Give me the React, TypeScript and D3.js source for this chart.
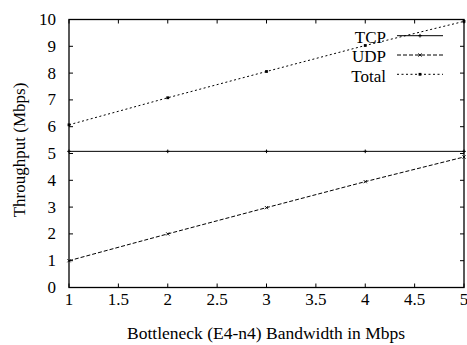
import React from "react";
import * as d3 from "d3";

const xs = [1, 2, 3, 4, 5];
const tcp = [5.08, 5.08, 5.08, 5.08, 5.08];
const udp = [1.0, 2.0, 2.98, 3.95, 4.87];
const total = [6.07, 7.08, 8.06, 9.03, 9.93];
const xTicks = [1, 1.5, 2, 2.5, 3, 3.5, 4, 4.5, 5];
const yTicks = [0, 1, 2, 3, 4, 5, 6, 7, 8, 9, 10];
const series = [
  { name: "TCP", values: tcp, dash: "none", marker: "plus" },
  { name: "UDP", values: udp, dash: "4,2", marker: "cross" },
  { name: "Total", values: total, dash: "2,2.5", marker: "square" },
];

const W = 467, H = 345;
const L = 69, R = 464, T = 19.5, B = 287.5;
const FF = "Liberation Serif";
const FS = 17;

function Marker({ type, x, y }: { type: string; x: number; y: number }) {
  if (type === "plus")
    return <path d={`M${x - 1.8},${y}H${x + 1.8}M${x},${y - 1.8}V${y + 1.8}`} stroke="#000" strokeWidth={1} />;
  if (type === "cross")
    return <path d={`M${x - 1.6},${y - 1.6}L${x + 1.6},${y + 1.6}M${x - 1.6},${y + 1.6}L${x + 1.6},${y - 1.6}`} stroke="#000" strokeWidth={0.9} />;
  return <rect x={x - 1.4} y={y - 1.4} width={2.8} height={2.8} fill="#000" />;
}

export default function App() {
  const x = d3.scaleLinear().domain([1, 5]).range([L, R]);
  const y = d3.scaleLinear().domain([0, 10]).range([B, T]);
  const line = d3.line<number>().x((_, i) => x(xs[i])).y((d) => y(d));
  const tl = 4;
  return (
    <svg width={W} height={H} style={{ position: "absolute", left: 0, top: 0, background: "#fff" }}>
      <g fill="#000">
        {xTicks.map((t) => (
          <g key={"x" + t}>
            <line x1={x(t)} x2={x(t)} y1={B} y2={B - tl} stroke="#000" />
            <line x1={x(t)} x2={x(t)} y1={T} y2={T + tl} stroke="#000" />
            <text x={x(t)} y={305} textAnchor="middle" fontFamily={FF} fontSize={FS}>{t}</text>
          </g>
        ))}
        {yTicks.map((t) => (
          <g key={"y" + t}>
            <line x1={L} x2={L + tl} y1={y(t)} y2={y(t)} stroke="#000" />
            <line x1={R} x2={R - tl} y1={y(t)} y2={y(t)} stroke="#000" />
            <text x={56} y={y(t) + 5.5} textAnchor="end" fontFamily={FF} fontSize={FS}>{t}</text>
          </g>
        ))}
        <text x={266} y={339} textAnchor="middle" fontFamily={FF} fontSize={17.5}>Bottleneck (E4-n4) Bandwidth in Mbps</text>
        <text transform={`translate(25,150) rotate(-90)`} textAnchor="middle" fontFamily={FF} fontSize={FS}>Throughput (Mbps)</text>
        {series.map((s, si) => (
          <g key={s.name}>
            <path d={line(s.values) || ""} fill="none" stroke="#000" strokeWidth={1} strokeDasharray={s.dash} />
            {s.values.map((v, i) => (
              <Marker key={i} type={s.marker} x={x(xs[i])} y={y(v)} />
            ))}
            <text x={386} y={42.5 + si * 19.5} textAnchor="end" fontFamily={FF} fontSize={FS}>{s.name}</text>
            <line x1={397} x2={443} y1={35.7 + si * 19.3} y2={35.7 + si * 19.3} stroke="#000" strokeDasharray={s.dash} />
            <Marker type={s.marker} x={420} y={35.7 + si * 19.3} />
          </g>
        ))}
        <rect x={L} y={T} width={R - L} height={B - T} fill="none" stroke="#000" strokeWidth={1.3} />
      </g>
    </svg>
  );
}
